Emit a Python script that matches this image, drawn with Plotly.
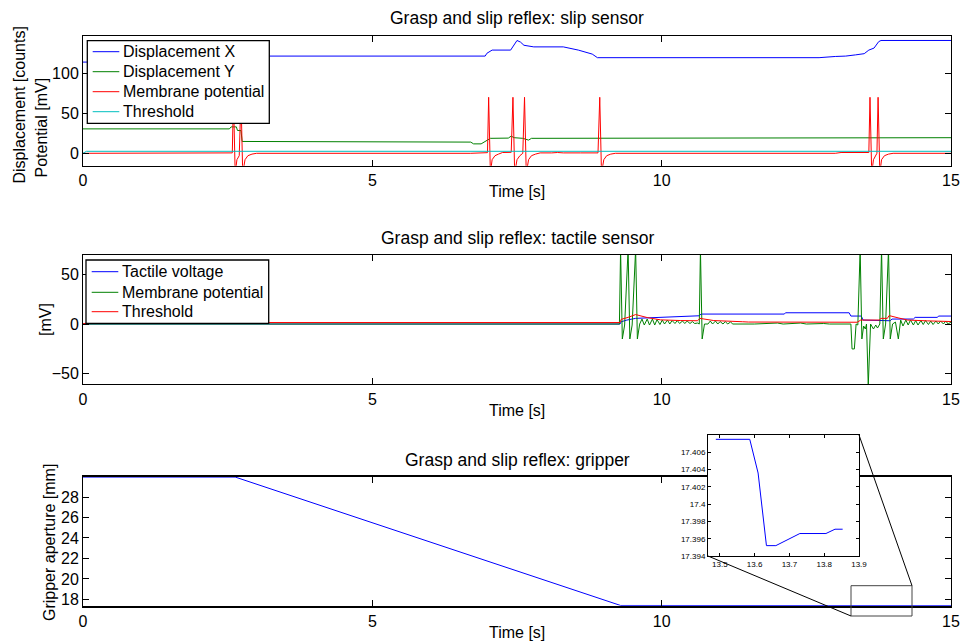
import plotly.graph_objects as go

# ---------------- data ----------------
# Top panel: slip sensor
dx_time = [0, 2.64, 2.66, 6.95, 6.98, 7.07, 7.39, 7.45, 7.50, 7.56, 7.62, 7.79, 8.30, 8.56, 8.80, 8.89,
           12.72, 13.00, 13.18, 13.35, 13.50, 13.58, 13.67, 13.75, 13.79, 15.0]
dx_vals = [114, 114, 121.5, 121.5, 125, 129, 129, 136, 141, 139, 135, 133, 133, 129, 124, 119.5,
           119.5, 121, 121.5, 123, 124.5, 129, 131.5, 139.5, 141, 141]

dy_time = [0, 2.53, 2.56, 2.65, 2.67, 2.73, 2.75, 3.20, 3.25, 6.70, 6.75, 6.88, 7.04, 7.35, 7.40, 7.45,
           7.60, 7.70, 7.75, 13.66, 13.68, 15.0]
dy_vals = [30.5, 30.5, 33, 33, 28.5, 28.5, 14.8, 14.8, 14, 14, 11.8, 11.8, 18.7, 19, 21.5, 19.5,
           18.7, 16.5, 18.7, 18.7, 19.5, 19.5]

mp1_time = [0, 2.58, 2.60, 2.63, 2.66, 2.70, 2.73, 2.76, 2.80, 2.85, 2.92, 3.00,
            6.70, 6.80, 6.99, 7.01, 7.04, 7.07, 7.12, 7.18, 7.25, 7.40, 7.43, 7.46, 7.50, 7.55, 7.60,
            7.63, 7.66, 7.70, 7.75, 7.82, 7.90, 8.10, 8.20, 8.30, 8.50, 8.60, 8.90, 8.93, 8.96, 9.00,
            9.05, 9.12, 9.20, 13.00, 13.10, 13.30, 13.40, 13.58, 13.60, 13.63, 13.66, 13.70, 13.72,
            13.74, 13.77, 13.80, 13.85, 13.92, 14.00, 15.0]
mp1_vals = [0, 0.5, 70, -25, -8, -3, 70, -25, -8, -3, -1, 0,
            0, 0.5, 0.8, 70, -25, -8, -3, -1, 1, 1.2, 70, -25, -8, -3, 0,
            70, -25, -8, -3, -1, 0.5, 0.5, 1, 0.5, 1, 0.5, 0.5, 70, -25, -8,
            -3, -1, 0, 0, 1, 1, 0.5, 1, 70, -25, -8, -3, 0,
            70, -25, -8, -3, -1, 0, 0]

th1_time = [0, 0.06, 15.0]
th1_vals = [0, 2.5, 2.5]

# Middle panel: tactile sensor
tv_time = [0, 9.28, 9.30, 9.40, 9.55, 10.01, 10.36, 10.65, 10.68, 12.12, 12.14, 13.24, 13.27, 13.45,
           13.48, 13.95, 13.98, 14.35, 14.38, 14.76, 14.79, 15.0]
tv_vals = [0, 0, 2.3, 4, 5.7, 6.7, 7.3, 8.3, 10, 10, 11.3, 11.3, 8, 8,
           4, 3.3, 5, 5, 6.7, 6.7, 8, 8]

mp2_time = [0, 9.27, 9.29, 9.32, 9.36, 9.42, 9.45, 9.49, 9.55, 9.58, 9.62, 9.66, 9.70, 9.75, 9.79,
            9.84, 9.88, 9.92, 9.97, 10.01, 10.05, 10.10, 10.14, 10.18, 10.23, 10.27, 10.31, 10.36,
            10.40, 10.44, 10.49, 10.53, 10.57, 10.62, 10.65, 10.67, 10.70, 10.74, 10.80, 10.84, 10.88,
            10.93, 10.97, 11.01, 11.06, 11.10, 11.14, 11.19, 11.23, 11.30, 11.50, 11.60, 12.00, 12.10,
            12.40, 12.50, 12.80, 12.90, 13.27, 13.29, 13.33, 13.36, 13.39, 13.43, 13.46, 13.49, 13.52,
            13.54, 13.57, 13.61, 13.66, 13.70, 13.73, 13.77, 13.80, 13.83, 13.87, 13.92, 13.95, 13.99,
            14.04, 14.09, 14.13, 14.17, 14.22, 14.26, 14.30, 14.35, 14.39, 14.43, 14.48, 14.52, 14.56,
            14.61, 14.65, 14.69, 14.74, 14.78, 14.82, 14.87, 14.91, 14.95, 15.0]
mp2_vals = [0, 0, 75, -15, -1, 75, -15, -1, 75, -15, 0, 5, -1, 5, -1,
            5, -1, 4.5, -0.5, 4, 0, 4, 0, 3.5, 0.5, 3.5, 0.5, 3,
            0.5, 3, 0.5, 2.5, 0.5, 1, 0, 75, -15, 0, 0, 3, 0,
            3, 0, 2.5, 0, 2.5, 0, 2, 0, 0, 0.5, 0, 1, 0,
            1, 0, 0.5, 0, 0, -25, -25, 0, -1, 75, -15, -2, -5,
            0, -62, 0, -5, -1, -4, 0, 75, -15, 0, 75, -15, 0,
            2, -15, 4, -2, 4, -1, 4, -1, 3.5, -1, 3.5, -0.5, 3.5,
            -0.5, 3, -0.5, 3, 0, 3, 0, 3, 0, 2]

th2_time = [0, 0.08, 9.28, 9.30, 9.42, 9.55, 9.75, 9.98, 10.33, 10.62, 10.66, 10.90, 11.40, 11.50,
            13.38, 13.44, 13.76, 13.79, 13.90, 13.93, 14.10, 14.25, 14.59, 15.0]
th2_vals = [0, 1.5, 1.5, 4.7, 6.7, 9.5, 6.5, 4.2, 3.5, 3.3, 5.7, 3.5, 2.3, 2.0,
            1.8, 4, 4, 5.7, 5.7, 8.5, 6, 4, 3.2, 2.5]

# Bottom panel: gripper
gr_time = [0, 2.63, 9.29, 13.586, 13.610, 13.634, 13.661, 13.730, 13.805, 13.831, 15.0]
gr_vals = [29.95, 29.95, 17.4075, 17.4075, 17.4036, 17.3952, 17.3952, 17.3966, 17.3966, 17.3971, 17.3971]

# Inset (zoom of the gripper trace)
in_time = [13.4885, 13.586, 13.610, 13.634, 13.661, 13.730, 13.805, 13.831, 13.853]
in_vals = [17.4075, 17.4075, 17.4036, 17.3952, 17.3952, 17.3966, 17.3966, 17.3971, 17.3971]

x_ticks = [0, 5, 10, 15]
in_xticks = [13.5, 13.6, 13.7, 13.8, 13.9]
in_yticks = [17.394, 17.396, 17.398, 17.4, 17.402, 17.404, 17.406]
in_yticktext = ["17.394", "17.396", "17.398", "17.4", "17.402", "17.404", "17.406"]

top_legend_names = ["Displacement X", "Displacement Y", "Membrane potential", "Threshold"]
mid_legend_names = ["Tactile voltage", "Membrane potential", "Threshold"]

# ---------------- layout helpers ----------------
W, H = 960, 643
def px(x):
    return x / W
def py(y):
    return 1 - y / H

FONT = "Liberation Sans, Arial, sans-serif"
BLUE, GREEN, RED, CYAN = "#0000ff", "#008000", "#ff0000", "#00bfbf"
top_colors = [BLUE, GREEN, RED, CYAN]
mid_colors = [BLUE, GREEN, RED]

fig = go.Figure()

top_series = [(dx_time, dx_vals), (dy_time, dy_vals), (mp1_time, mp1_vals), (th1_time, th1_vals)]
for (t, v), name, col in zip(top_series, top_legend_names, top_colors):
    fig.add_trace(go.Scatter(x=t, y=v, mode="lines", name=name, showlegend=False,
                             line=dict(color=col, width=1), xaxis="x", yaxis="y"))
mid_series = [(tv_time, tv_vals), (mp2_time, mp2_vals), (th2_time, th2_vals)]
for (t, v), name, col in zip(mid_series, mid_legend_names, mid_colors):
    fig.add_trace(go.Scatter(x=t, y=v, mode="lines", name=name, showlegend=False,
                             line=dict(color=col, width=1), xaxis="x2", yaxis="y2"))
fig.add_trace(go.Scatter(x=gr_time, y=gr_vals, mode="lines", name="Gripper aperture", showlegend=False,
                         line=dict(color=BLUE, width=1), xaxis="x3", yaxis="y3"))
fig.add_trace(go.Scatter(x=in_time, y=in_vals, mode="lines", name="Gripper aperture (zoom)", showlegend=False,
                         line=dict(color=BLUE, width=1), xaxis="x4", yaxis="y4"))

xdom = [px(83), px(951)]
ax_common = dict(showline=True, linecolor="black", linewidth=1, mirror="allticks", automargin=False,
                 ticks="inside", ticklen=6, tickcolor="black", tickwidth=1, showgrid=False, zeroline=False,
                 tickfont=dict(family=FONT, size=16, color="black"))

def xax(anchor, lw=1):
    return dict(ax_common, domain=xdom, range=[0, 15], tickvals=x_ticks, anchor=anchor, linewidth=lw)

fig.update_layout(
    width=W, height=H, autosize=False, margin=dict(l=0, r=0, t=0, b=0, pad=0, autoexpand=False),
    paper_bgcolor="white", plot_bgcolor="white", showlegend=False,
    font=dict(family=FONT, size=16, color="black"),
    xaxis=xax("y"),
    yaxis=dict(ax_common, domain=[py(165.7), py(36)], range=[-15.5, 146.6],
               tickvals=[0, 50, 100], anchor="x"),
    xaxis2=xax("y2"),
    yaxis2=dict(ax_common, domain=[py(384.3), py(255)], range=[-60.5, 69.3],
                tickvals=[-50, 0, 50], anchor="x2"),
    xaxis3=xax("y3", lw=2),
    yaxis3=dict(ax_common, domain=[py(605.7), py(477)], range=[17.385, 29.955],
                tickvals=[18, 20, 22, 24, 26, 28], anchor="x3"),
    xaxis4=dict(ax_common, domain=[px(708), px(859)], range=[13.466, 13.9], tickvals=in_xticks,
                ticklen=3, tickfont=dict(family=FONT, size=8, color="black"), anchor="y4"),
    yaxis4=dict(ax_common, domain=[py(556), py(435)], range=[17.394, 17.408], tickvals=in_yticks,
                ticktext=in_yticktext, ticklen=3, tickfont=dict(family=FONT, size=8, color="black"),
                anchor="x4"),
)

annots = [
    ("Grasp and slip reflex: slip sensor", 517, 18, 0, 17.5),
    ("Grasp and slip reflex: tactile sensor", 517, 238, 0, 17.5),
    ("Grasp and slip reflex: gripper", 517, 460, 0, 17.5),
    ("Time [s]", 517, 191, 0, 16),
    ("Time [s]", 517, 410, 0, 16),
    ("Time [s]", 517, 632, 0, 16),
    ("Displacement [counts]", 19, 105.5, -90, 16),
    ("Potential [mV]", 41.5, 128, -90, 16),
    ("[mV]", 45, 320, -90, 16),
    ("Gripper aperture [mm]", 49, 543, -90, 16),
]
for text, x, y, ang, fs in annots:
    fig.add_annotation(text=text, x=px(x), y=py(y), xref="paper", yref="paper",
                       xanchor="center", yanchor="middle", showarrow=False, textangle=ang,
                       font=dict(family=FONT, size=fs, color="black"))

# MATLAB-style legend boxes (box, line samples, labels)
def legend_box(x0, x1, y0, y1, rows, names, colors, lx0, lx1, tx):
    fig.add_shape(type="rect", xref="paper", yref="paper", x0=px(x0), x1=px(x1), y0=py(y1), y1=py(y0),
                  fillcolor="white", line=dict(color="black", width=1.3), layer="above")
    for ry, name, col in zip(rows, names, colors):
        fig.add_shape(type="line", xref="paper", yref="paper", x0=px(lx0), x1=px(lx1), y0=py(ry), y1=py(ry),
                      line=dict(color=col, width=1), layer="above")
        fig.add_annotation(text=name, x=px(tx), y=py(ry), xref="paper", yref="paper",
                           xanchor="left", yanchor="middle", showarrow=False,
                           font=dict(family=FONT, size=16, color="black"))

legend_box(87.3, 269.3, 40.7, 123.3, [51.7, 71.7, 91.7, 111.7], top_legend_names, top_colors, 92.7, 119.3, 121)
legend_box(86, 268.7, 260, 323.3, [271.7, 292.3, 311.7], mid_legend_names, mid_colors, 91.7, 118.3, 120)

# zoom rectangle and connector lines
fig.add_shape(type="rect", xref="paper", yref="paper", x0=px(851), x1=px(912), y0=py(616), y1=py(585.7),
              line=dict(color="#444444", width=1))
fig.add_shape(type="line", xref="paper", yref="paper", x0=px(708), y0=py(556), x1=px(851), y1=py(616),
              line=dict(color="black", width=1))
fig.add_shape(type="line", xref="paper", yref="paper", x0=px(859), y0=py(435), x1=px(912), y1=py(585.7),
              line=dict(color="black", width=1))

post = ("document.documentElement.style.overflow='hidden';"
        "document.body.style.margin='0';document.body.style.overflow='hidden';"
        "var gd=document.getElementById('{plot_id}');"
        "gd.style.position='fixed';gd.style.left='0px';gd.style.top='0px';")
fig.write_html("out.html", config={"displayModeBar": False, "responsive": False}, post_script=post)
